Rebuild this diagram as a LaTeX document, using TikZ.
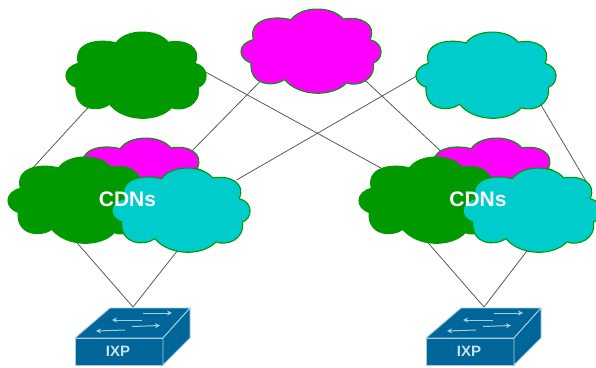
\documentclass[tikz,border=0pt]{standalone}
\usepackage{fontspec}
\setmainfont{Liberation Sans}
\usetikzlibrary{arrows.meta,backgrounds}
\definecolor{cgreen}{HTML}{009900}
\definecolor{cmag}{HTML}{FF00FF}
\definecolor{ccyan}{HTML}{00CCCC}
\definecolor{swblue}{HTML}{006699}
\definecolor{swline}{HTML}{A5CFE0}
\tikzset{
  link/.style={draw=black!65,line width=0.8pt},
  cloudline/.style={draw=cgreen,line width=1.1pt,line join=round},
  cloudbox/.style={inner sep=0pt,outer sep=0pt,anchor=north west},
  swface/.style={fill=swblue,draw=swline,line width=0.9pt,line join=round},
  swarrow/.style={draw=swline,line width=1pt,-{Stealth[length=5pt,width=5pt]}},
  cdnlabel/.style={text=white,font=\bfseries\fontsize{21}{21}\selectfont,inner sep=0pt},
  ixplabel/.style={text=swline!60!white,font=\bfseries\fontsize{15}{15}\selectfont,inner sep=0pt}
}
% name, left, top, width, height, fill (pixel coordinates, y downward)
\newcommand{\cloudshape}[6]{%
  \begin{scope}[shift={(#2pt,{(367-#3-#5)*1pt})},x=#4pt,y=#5pt]
    \path[cloudline,fill=#6]
      (.361,.873) .. controls (.43,1.04) and (.66,1.04) .. (.735,.881)
      .. controls (.86,.92) and (.98,.82) .. (.928,.635)
      .. controls (1.03,.60) and (1.03,.40) .. (.952,.357)
      .. controls (.97,.15) and (.84,.07) .. (.759,.119)
      .. controls (.66,-.05) and (.42,-.05) .. (.313,.159)
      .. controls (.24,.07) and (.06,.08) .. (.072,.357)
      .. controls (-.027,.41) and (-.027,.59) .. (.089,.635)
      .. controls (.05,.87) and (.22,.93) .. (.361,.873) -- cycle;
  \end{scope}%
  \node[cloudbox,minimum width=#4pt,minimum height=#5pt] (#1) at (#2pt,{(367-#3)*1pt}) {};%
}
% name, left x of the front face
\newcommand{\switchicon}[2]{%
  \begin{scope}[shift={(#2pt,0pt)},x=1pt,y=1pt]
    \path[swface] (0,29) -- (35,59) -- (115,59) -- (88,29) -- cycle;
    \path[swface] (0,2) rectangle (88,29);
    \path[swface] (88,2) -- (115,29) -- (115,59) -- (88,29) -- cycle;
    \draw[swarrow] (68,54) -- (97,54);
    \draw[swarrow] (67,47) -- (37,47);
    \draw[swarrow] (57,40.5) -- (85,41.5);
    \draw[swarrow] (50,37) -- (21,36);
  \end{scope}%
  \node[ixplabel] (#1) at ({(#2+43)*1pt},15.5pt) {IXP};%
  \coordinate (#1top) at ({(#2+58)*1pt},60pt);%
}
\begin{document}
\begin{tikzpicture}[x=1pt,y=1pt]
\useasboundingbox (0,0) rectangle (596,367);
\cloudshape{tg}{66}{32}{139}{86}{cgreen}
\cloudshape{tm}{241}{9}{139}{84}{cmag}
\cloudshape{tc}{416}{32}{139}{86}{ccyan}
\cloudshape{lm}{71}{138}{136}{84}{cmag}
\cloudshape{lg}{8}{157}{140}{86}{cgreen}
\cloudshape{lc}{112}{168}{137}{84}{ccyan}
\cloudshape{rm}{422}{138}{136}{84}{cmag}
\cloudshape{rg}{359}{157}{140}{86}{cgreen}
\cloudshape{rc}{463}{168}{137}{84}{ccyan}
\node[cdnlabel] (cl) at (127.5,168) {CDNs};
\node[cdnlabel] (cr) at (478,168) {CDNs};
\switchicon{ixpl}{75}
\switchicon{ixpr}{426}
\begin{pgfonlayer}{background}
\draw[link] ([shift={(-40.5,-25)}]tg.center) -- ([shift={(-48,29)}]lg.center);
\draw[link] ([shift={(-45,-25)}]tm.center) -- ([shift={(49,25)}]lm.center);
\draw[link] ([shift={(-67,0)}]tc.center) -- ([shift={(56,30)}]lc.center);
\draw[link] ([shift={(64.5,6)}]tg.center) -- ([shift={(-39,27)}]rg.center);
\draw[link] ([shift={(49,-24)}]tm.center) -- ([shift={(-43,23)}]rm.center);
\draw[link] ([shift={(55.5,-30)}]tc.center) -- ([shift={(55.5,27)}]rc.center);
\draw[link] ([shift={(-6,-37)}]lg.center) -- (ixpltop);
\draw[link] ([shift={(3,-33)}]lc.center) -- (ixpltop);
\draw[link] ([shift={(-6,-37)}]rg.center) -- (ixprtop);
\draw[link] ([shift={(1.5,-33)}]rc.center) -- (ixprtop);
\end{pgfonlayer}
\end{tikzpicture}
\end{document}
